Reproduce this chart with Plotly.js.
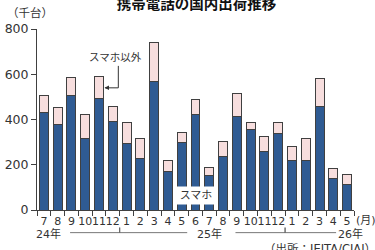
<!DOCTYPE html>
<html><head><meta charset="utf-8">
<script src="https://cdn.plot.ly/plotly-3.0.1.min.js"></script>
<style>html,body{margin:0;padding:0;background:#fff}#c{width:375px;height:250px}</style>
</head><body><div id="c"></div>
<script>
const months = ["7","8","9","10","11","12","1","2","3","4","5","6","7","8","9","10","11","12","1","2","3","4","5"];
const smartphone = [430,377,505,317,495,389,295,227,567,170,299,420,154,237,414,354,258,337,221,221,456,140,114];
const other = [75,74,81,107,94,69,90,91,172,50,44,67,35,67,101,31,65,48,60,97,125,42,41];
const yearLabels = ["24年","25年","26年"];
const yTicks = [0,200,400,600,800];

const idx = months.map((m,i)=>i);
const F = "DejaVu Sans, Noto Sans CJK JP, sans-serif";
const lineCol = "#404040";

const traces = [
  {type:"bar", x:idx, y:smartphone, width:0.65, marker:{color:"#2f5b93", line:{color:lineCol,width:1}}, hoverinfo:"none"},
  {type:"bar", x:idx, y:other, width:0.65, marker:{color:"#f7dede", line:{color:lineCol,width:1}}, hoverinfo:"none"}
];

const yb = -0.125, yt = -0.097, yl = -0.128;
const layout = {
  width:375, height:250,
  margin:{l:37, r:20.5, t:29, b:39.5},
  barmode:"stack", showlegend:false,
  paper_bgcolor:"#fff", plot_bgcolor:"#fff",
  font:{family:F, color:"#333", size:11},
  title:{text:"<b>携帯電話の国内出荷推移</b>", font:{family:"Noto Sans CJK JP", size:14.5, color:"#111"}, x:0.503, xanchor:"center", y:0.985, yanchor:"middle", xref:"paper"},
  xaxis:{range:[-0.5,22.5], tickmode:"array", tickvals:idx, ticktext:months, ticks:"", tickangle:0, ticklabelstandoff:1, showline:true, linecolor:lineCol, linewidth:1, showgrid:false, zeroline:false, tickfont:{size:11, color:"#333"},
    minor:{tickmode:"linear", tick0:-0.5, dtick:1, ticks:"outside", ticklen:5, tickcolor:lineCol, tickwidth:1, showgrid:false}},
  yaxis:{range:[0,800], tickvals:yTicks, ticks:"outside", ticklen:5, tickcolor:lineCol, showline:true, linecolor:lineCol, linewidth:1, showgrid:false, zeroline:false, tickfont:{size:12.5, color:"#333"}},
  shapes:[
    {type:"path", xref:"x", yref:"paper", path:`M 1.9 ${yb} L 5.5 ${yb} L 5.5 ${yt}`, line:{color:"#555", width:0.8}},
    {type:"path", xref:"x", yref:"paper", path:`M 5.5 ${yt} L 5.5 ${yb} L 10.4 ${yb}`, line:{color:"#555", width:0.8}},
    {type:"path", xref:"x", yref:"paper", path:`M 13.9 ${yb} L 17.5 ${yb} L 17.5 ${yt}`, line:{color:"#555", width:0.8}},
    {type:"path", xref:"x", yref:"paper", path:`M 17.5 ${yt} L 17.5 ${yb} L 21.2 ${yb}`, line:{color:"#555", width:0.8}},
    {type:"path", xref:"x", yref:"y", path:"M 5.4 637 L 5.4 540 L 4.45 540", line:{color:"#333", width:1}}
  ],
  annotations:[
    {xref:"paper", yref:"paper", x:-0.1, y:1.09, xanchor:"left", yanchor:"middle", text:"（千台）", showarrow:false, font:{size:11.5, color:"#333"}},
    {xref:"x", yref:"paper", x:0.35, y:yl, yanchor:"middle", text:yearLabels[0], showarrow:false, font:{size:11}, height:13},
    {xref:"x", yref:"paper", x:12.05, y:yl, yanchor:"middle", text:yearLabels[1], showarrow:false, font:{size:11}, height:13},
    {xref:"x", yref:"paper", x:22.25, y:yl, yanchor:"middle", text:yearLabels[2], showarrow:false, font:{size:11}, height:13},
    {xref:"paper", yref:"paper", x:1.0, y:-0.058, xanchor:"left", yanchor:"middle", text:"(月)", showarrow:false, font:{size:11}},
    {xref:"paper", yref:"paper", x:1.075, y:-0.215, xanchor:"right", yanchor:"middle", text:"（出所：JEITA/CIAJ）", showarrow:false, font:{size:11.5}},
    {xref:"x", yref:"y", x:5.2, y:675, text:"スマホ以外", showarrow:false, font:{size:10.5, color:"#333"}},
    {xref:"x", yref:"y", x:4.4, y:540, ax:4.75, ay:540, axref:"x", ayref:"y", text:"", showarrow:true, arrowhead:2, arrowsize:0.9, arrowwidth:1, arrowcolor:"#333"},
    {xref:"x", yref:"y", x:11, y:66, text:"スマホ", showarrow:false, bgcolor:"#fff", width:38, height:15, font:{size:11, color:"#333"}}
  ]
};
Plotly.newPlot("c", traces, layout, {staticPlot:true, displayModeBar:false});
</script></body></html>
